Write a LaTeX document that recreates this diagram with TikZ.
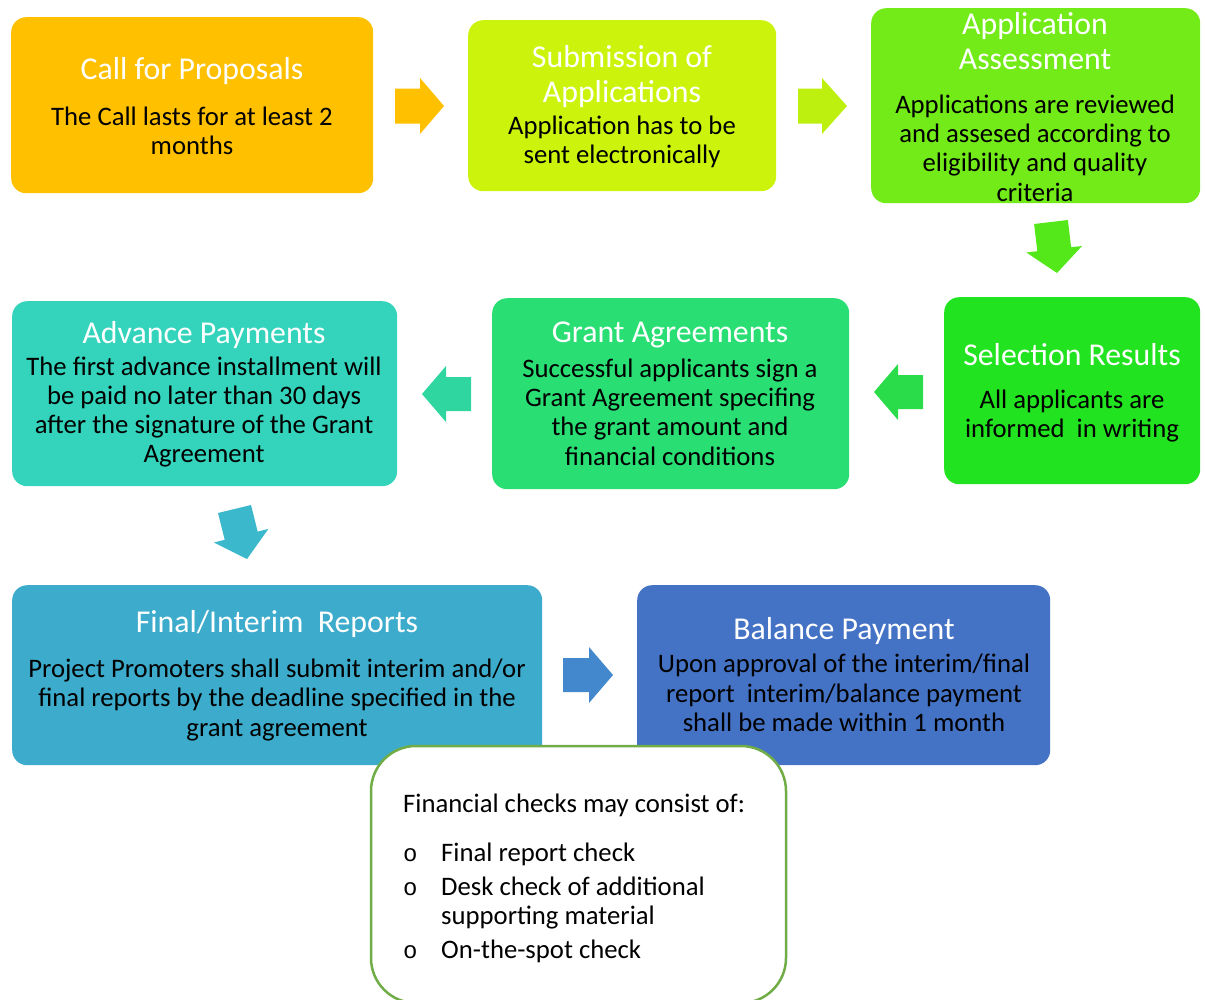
\documentclass[tikz,border=0pt]{standalone}
\usepackage{fontspec}
\setmainfont{Carlito}
\newfontfamily\cour{Liberation Mono}
\newcommand{\bul}{\makebox[38pt][l]{\cour\fontsize{24}{29}\selectfont o}}
\definecolor{cA}{HTML}{FFC000}
\definecolor{cB}{HTML}{CCF30C}
\definecolor{cC}{HTML}{72EB18}
\definecolor{cD}{HTML}{22E31F}
\definecolor{cE}{HTML}{29DE73}
\definecolor{cF}{HTML}{34D4BC}
\definecolor{cG}{HTML}{3DABCB}
\definecolor{cH}{HTML}{4472C4}
\definecolor{aB}{HTML}{BDF00F}
\definecolor{aC}{HTML}{54E81B}
\definecolor{aD}{HTML}{2BDC4A}
\definecolor{aE}{HTML}{30D6A0}
\definecolor{aF}{HTML}{3BB8CC}
\definecolor{aG}{HTML}{4387CC}
\definecolor{frame}{HTML}{70AD47}
\begin{document}
\begin{tikzpicture}[x=1pt,y=-1pt,
  box/.style={rounded corners=15pt, inner sep=0pt, draw=none, anchor=north west},
  ttl/.style={text=white, font=\fontsize{31.8}{35}\selectfont, align=center, inner sep=0pt},
  bdy/.style={text=black, font=\fontsize{26.7}{29.3}\selectfont, align=center, inner sep=0pt},
  lst/.style={text=black, font=\fontsize{26.7}{29.3}\selectfont, anchor=west, inner sep=0pt}]
\useasboundingbox (0,0) rectangle (1205,999);
% boxes
\node[box, fill=cA, minimum width=362pt, minimum height=176pt] (b1) at (11,17) {};
\node[box, fill=cB, minimum width=308pt, minimum height=171pt] (b2) at (468,20) {};
\node[box, fill=cC, minimum width=329pt, minimum height=195pt] (b3) at (871,8) {};
\node[box, fill=cD, minimum width=256pt, minimum height=187pt] (b4) at (944,297) {};
\node[box, fill=cE, minimum width=357pt, minimum height=191pt] (b5) at (492,298) {};
\node[box, fill=cF, minimum width=385pt, minimum height=185pt] (b6) at (12,301) {};
\node[box, fill=cG, minimum width=530pt, minimum height=180pt] (b7) at (12,585) {};
\node[box, fill=cH, minimum width=413pt, minimum height=180pt] (b8) at (637,585) {};
% texts
\node[ttl] (t1) at (192,71) {Call for Proposals};
\node[bdy] (d1) at (192,131) {The Call lasts for at least 2\\months};
\node[ttl] (t2) at (622,77) {Submission of\\Applications};
\node[bdy] (d2) at (622,142) {Application has to be\\sent electronically};
\node[ttl] (t3) at (1035,41) {Application\\Assessment};
\node[bdy] (d3) at (1035,148) {Applications are reviewed\\and assesed according to\\eligibility and quality\\criteria};
\node[ttl] (t4) at (1072,355) {Selection Results};
\node[bdy] (d4) at (1072,416) {All applicants are\\informed\ \ in writing};
\node[ttl] (t5) at (670,335) {Grant Agreements};
\node[bdy] (d5) at (670,412) {Successful applicants sign a\\Grant Agreement specifing\\the grant amount and\\financial conditions};
\node[ttl] (t6) at (204,335) {Advance Payments};
\node[bdy] (d6) at (204,412) {The first advance installment will\\be paid no later than 30 days\\after the signature of the Grant\\Agreement};
\node[ttl] (t7) at (277,624) {Final/Interim\ \ Reports};
\node[bdy] (d7) at (277,700) {Project Promoters shall submit interim and/or\\final reports by the deadline specified in the\\grant agreement};
\node[ttl] (t8) at (844,631) {Balance Payment};
\node[bdy] (d8) at (844,693) {Upon approval of the interim/final\\report\ \ interim/balance payment\\shall be made within 1 month};
% block arrows
\fill[cA] (395,88.5) -- (420,88.5) -- (420,78) -- (444,106) -- (420,134) -- (420,123.5) -- (395,123.5) -- cycle;
\fill[aB] (798,88.5) -- (822,88.5) -- (822,78) -- (847,106) -- (822,134) -- (822,123.5) -- (798,123.5) -- cycle;
\fill[aC] (1034.1,224) -- (1067.9,220) -- (1071.1,247.2) -- (1082,246) -- (1057,273) -- (1026.4,252.5) -- (1037.3,251.2) -- cycle;
\fill[aD] (923,375) -- (898,375) -- (898,364) -- (874,392) -- (898,420) -- (898,409) -- (923,409) -- cycle;
\fill[aE] (471,377) -- (446,377) -- (446,366) -- (422,394) -- (446,422) -- (446,411) -- (471,411) -- cycle;
\fill[aF] (218,513) -- (251,505) -- (257.7,531.6) -- (268.4,528.9) -- (247,559) -- (214,542.5) -- (224.7,539.8) -- cycle;
\fill[aG] (563,658) -- (589,658) -- (589,647) -- (613,675) -- (589,703) -- (589,692) -- (563,692) -- cycle;
% financial checks box
\draw[frame, line width=2.5pt, fill=white, rounded corners=45pt] (371,746) rectangle (786,1003);
\node[lst] (f0) at (403,805) {Financial checks may consist of:};
\node[lst] (f1) at (403,854) {\bul Final report check};
\node[lst] (f2) at (403,886) {\bul Desk check of additional};
\node[lst] (f3) at (441,918) {supporting material};
\node[lst] (f4) at (403,951) {\bul On-the-spot check};
\end{tikzpicture}
\end{document}
